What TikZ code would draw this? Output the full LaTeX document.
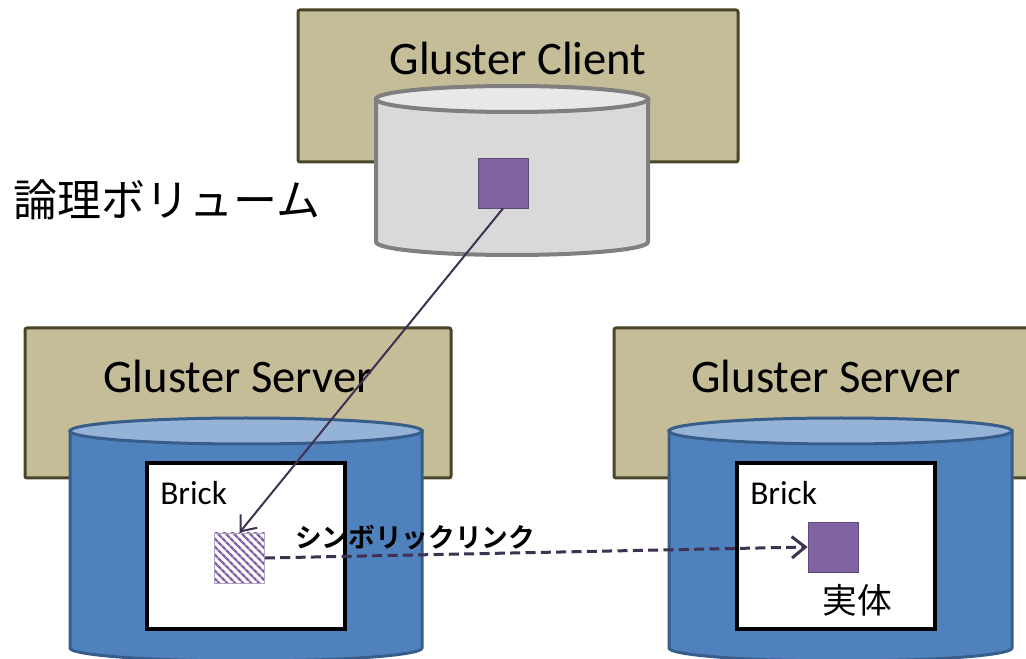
\documentclass[tikz,border=0pt]{standalone}
\usepackage{fontspec}
\setmainfont{Carlito}
\newfontfamily\jpfont[BoldFont={* Bold}]{Noto Sans CJK JP}
\usetikzlibrary{arrows.meta,patterns.meta}

\definecolor{boxfill}{HTML}{C4BD97}
\definecolor{boxline}{HTML}{4A452A}
\definecolor{diskfill}{HTML}{4F81BD}
\definecolor{disktop}{HTML}{95B3D7}
\definecolor{diskline}{HTML}{385D8A}
\definecolor{volfill}{HTML}{D9D9D9}
\definecolor{voltop}{HTML}{E8E8E8}
\definecolor{volline}{HTML}{7F7F7F}
\definecolor{filefill}{HTML}{8064A2}
\definecolor{fileline}{HTML}{5F497A}
\definecolor{linkline}{HTML}{3F3151}

\tikzset{
	hostbox/.style={draw=boxline, fill=boxfill, line width=2.25pt, rounded corners=1.5pt},
	hosttext/.style={font=\fontsize{35}{40}\selectfont, inner sep=0pt},
	brickbox/.style={draw=black, fill=white, line width=3pt},
	bricktext/.style={font=\fontsize{25}{30}\selectfont, inner sep=0pt, anchor=west},
	filebox/.style={draw=fileline, fill=filefill, line width=0.6pt, minimum size=37.5pt, inner sep=0pt},
	linkbox/.style={draw=filefill!60, preaction={fill=white}, pattern={Lines[angle=-45,distance=4pt,line width=2pt]}, pattern color=filefill, line width=0.6pt, minimum size=37.5pt, inner sep=0pt},
	linkarrow/.style={draw=linkline, line width=1.5pt, -{Straight Barb[length=10pt,width=16pt]}},
	jptext/.style={font=\jpfont\fontsize{#1}{#1}\selectfont, inner sep=0pt}
}

\begin{document}
\begin{tikzpicture}[x=0.75pt,y=0.75pt]
	\clip (0,0) rectangle (1026,658);
	\fill[white] (0,0) rectangle (1026,658);

	% client
	\draw[hostbox] (298,496) rectangle (738,648);
	\node[hosttext] (client) at (518,600) {Gluster Client};
	\draw[line width=3pt, draw=volline, fill=volfill] (376,559) -- (376,416) arc[start angle=180, end angle=360, x radius=136, y radius=13] -- (648,559) -- cycle;
	\draw[line width=3pt, draw=volline, fill=voltop] (512,559) ellipse[x radius=136, y radius=13];

	% servers
	\foreach \s/\xa/\xb/\cx/\rx/\bx/\tx in {L/25/451/246/176/147/238, R/614/1040/840.5/171.5/737/826}{
		\draw[hostbox] (\xa,180) rectangle (\xb,330);
		\node[hosttext] (host\s) at (\tx,282) {Gluster Server};
		\draw[line width=2.25pt, draw=diskline, fill=diskfill] ({\cx-\rx},227) -- ({\cx-\rx},10) arc[start angle=180, end angle=360, x radius=\rx, y radius=13] -- ({\cx+\rx},227) -- cycle;
		\draw[line width=2.25pt, draw=diskline, fill=disktop] (\cx,227) ellipse[x radius=\rx, y radius=13];
		\draw[brickbox] (\bx,29) rectangle ({\bx+198},195);
		\node[bricktext] (brick\s) at ({\bx+13},165) {Brick};
	}

	% files
	\node[filebox] (volfile) at (503,475) {};
	\node[linkbox] (linkfile) at (239.5,100) {};
	\node[filebox] (realfile) at (833,111) {};

	\node[jptext=33] (vollabel) at (167,458) {論理ボリューム};
	\node[jptext=26] (reallabel) at (857,58) {実体};
	\node[jptext=20] (linklabel) at (415,120) {\bfseries シンボリックリンク};

	\draw[linkarrow] (volfile.south) -- (linkfile.north);
	\draw[linkarrow, line width=2.25pt, dash pattern=on 7.5pt off 4pt] (linkfile.east) -- (realfile.west);
\end{tikzpicture}
\end{document}
